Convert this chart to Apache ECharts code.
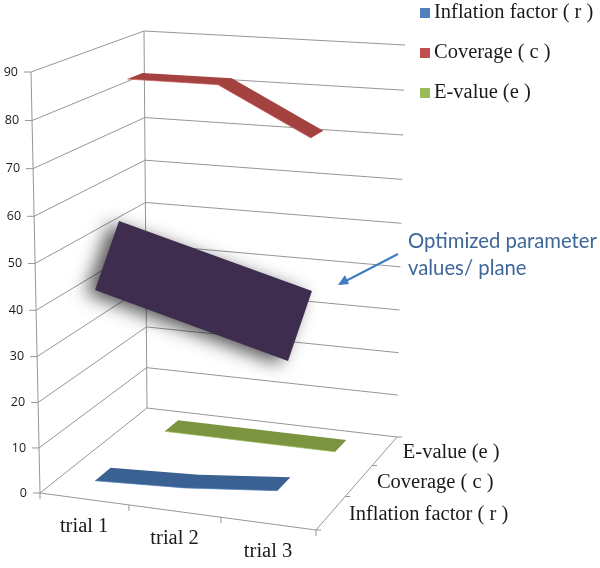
<!DOCTYPE html>
<html><head><meta charset="utf-8">
<style>html,body{margin:0;padding:0;background:#fff}#c{width:600px;height:568px}</style>
<script src="https://cdn.jsdelivr.net/npm/echarts@6/dist/echarts.min.js"></script>
</head><body><div id="c"></div>
<script>
var categories = ['trial 1', 'trial 2', 'trial 3'];
var seriesNames = ['Inflation factor ( r )', 'Coverage ( c )', 'E-value (e )'];
var depthLabels = ['Inflation factor ( r )', 'Coverage ( c )', 'E-value (e )'];
var valueTicks = [0, 10, 20, 30, 40, 50, 60, 70, 80, 90];
var inflationValues = [2, 3, 5];
var coverageValues = [85, 85, 75];
var evalueValues = [0, 0, 0];
// highlighted plane corners: trial position, value (in the Coverage row)
var planeTrials = [-0.491, 1.707, 1.962, -0.201];
var planeValues = [36.69, 25.08, 41.11, 52.79];
var legendColors = ['#4f81bd', '#c0504d', '#9bbb59'];
var ribbonColors = ['#3a6191', '#a44240', '#7b9440'];
var edgeColors = ['#4f81bd', '#d0605c', '#9bbb59'];

var W = 600, H = 568, LINE = '#969696', SERIF = '"Liberation Serif", serif', SANS = '"Open Sans", sans-serif';

function homography(q) {
  var x0=q[0][0],y0=q[0][1],x1=q[1][0],y1=q[1][1],x2=q[2][0],y2=q[2][1],x3=q[3][0],y3=q[3][1];
  var dx1=x1-x2,dx2=x3-x2,sx=x0-x1+x2-x3,dy1=y1-y2,dy2=y3-y2,sy=y0-y1+y2-y3;
  var den=dx1*dy2-dx2*dy1,g=(sx*dy2-dx2*sy)/den,h=(dx1*sy-sx*dy1)/den;
  var a=x1-x0+g*x1,b=x3-x0+h*x3,d=y1-y0+g*y1,e=y3-y0+h*y3;
  return function(u,v){var w=g*u+h*v+1;return [(a*u+b*v+x0)/w,(d*u+e*v+y0)/w];};
}
// The chart box: the flat grid's scales give t and h, these maps tilt them into the view
var floorMap = homography([[40,493],[316,530],[397,437],[147,408]]);
var topMap = homography([[31,72],[321,90],[405,45],[144,31]]);
function tilt(t, d, h) {
  var k = 0.043, hh = h / (1 + k * (1 - h));
  var a = floorMap(t, d), b = topMap(t, d);
  return [a[0] + (b[0] - a[0]) * hh, a[1] + (b[1] - a[1]) * hh];
}
function view(api, trial, depth, value) {
  var c = api.coord([trial, value]);
  return tilt(c[0] / W, depth, 1 - c[1] / H);
}
function line(p, q, z) {
  return { type: 'line', z2: z || 0, shape: { x1: p[0], y1: p[1], x2: q[0], y2: q[1] }, style: { stroke: LINE, lineWidth: 1 } };
}
function label(text, x, y, font, align) {
  return { type: 'text', z2: 5, style: { text: text, x: x, y: y, font: font, fill: '#1a1a1a', align: align, verticalAlign: 'middle' } };
}

function renderWall(params, api) {
  var v = api.value(0);
  var a = view(api, -0.5, 0, v), b = view(api, -0.5, 1, v), c = view(api, 2.5, 1, v);
  return { type: 'group', children: [
    line(a, b), line(b, c), line([a[0] - 7, a[1]], a),
    label(String(v), a[0] - 13, a[1], '12.5px ' + SANS, 'right')
  ] };
}
function renderFrame(params, api) {
  var kids = [
    line(view(api, -0.5, 0, 0), view(api, -0.5, 0, 90)),
    line(view(api, -0.5, 1, 0), view(api, -0.5, 1, 90)),
    line(view(api, -0.5, 0, 0), view(api, 2.5, 0, 0)),
    line(view(api, 2.5, 0, 0), view(api, 2.5, 1, 0))
  ];
  for (var i = 0; i <= categories.length; i++) {
    var p = view(api, i - 0.5, 0, 0);
    kids.push(line(p, [p[0], p[1] + 6]));
  }
  for (var j = 0; j <= depthLabels.length; j++) {
    var q = view(api, 2.5, j / depthLabels.length, 0);
    kids.push(line(q, [q[0] + 5, q[1]]));
  }
  return { type: 'group', children: kids };
}
function renderCategory(params, api) {
  var i = api.value(0), p = view(api, i, 0, 0);
  return label(categories[i], p[0], p[1] + 28, '20.5px ' + SERIF, 'center');
}
function renderDepth(params, api) {
  var i = api.value(0), q = view(api, 2.5, (i + 0.5) / depthLabels.length, 0);
  return label(depthLabels[i], q[0] + 18, q[1] + 1.5, '20.5px ' + SERIF, 'left');
}
function ribbonRenderer(row) {
  return function (params, api) {
    if (params.dataIndex !== 0) return null;
    var n = 3, d = (row + 0.5) / 3, half = 0.07, front = [], back = [];
    for (var i = 0; i < n; i++) {
      front.push(view(api, api.value(0, i), d - half, api.value(1, i)));
      back.push(view(api, api.value(0, i), d + half, api.value(1, i)));
    }
    return { type: 'group', children: [
      { type: 'polygon', shape: { points: front.concat(back.slice().reverse()) }, style: { fill: ribbonColors[row] } },
      { type: 'polyline', shape: { points: front }, style: { fill: null, stroke: edgeColors[row], lineWidth: 1, opacity: 0.7 } }
    ] };
  };
}
function renderPlane(params, api) {
  if (params.dataIndex !== 0) return null;
  var pts = [];
  for (var i = 0; i < 4; i++) pts.push(view(api, api.value(0, i), 0.5, api.value(1, i)));
  return { type: 'polygon', shape: { points: pts }, style: {
    fill: '#3f2d50', shadowBlur: 18, shadowColor: 'rgba(0,0,0,0.68)', shadowOffsetX: -9, shadowOffsetY: 3 } };
}
function rows(values) { return values.map(function (v, i) { return [i, v]; }); }
function idx(list) { return list.map(function (_, i) { return [i, 0]; }); }

var chart = echarts.init(document.getElementById('c'), null, { renderer: 'canvas' });
var noop = { silent: true, animation: false, clip: false, type: 'custom', coordinateSystem: 'cartesian2d' };
function custom(o) { return Object.assign({}, noop, o); }
chart.setOption({
  animation: false,
  backgroundColor: '#fff',
  grid: { left: 0, right: 0, top: 0, bottom: 0 },
  xAxis: { type: 'value', min: -0.5, max: 2.5, show: false },
  yAxis: { type: 'value', min: 0, max: 90, show: false },
  legend: {
    left: 420, top: 1, padding: 0, orient: 'vertical', itemWidth: 10, itemHeight: 10, itemGap: 16,
    icon: 'rect', selectedMode: false,
    textStyle: { fontFamily: SERIF, fontSize: 20.5, color: '#1a1a1a', padding: [0, 0, 0, -1], lineHeight: 24 },
    data: seriesNames.map(function (n, i) { return { name: n, itemStyle: { color: legendColors[i] } }; })
  },
  series: [
    custom({ name: 'walls', z: 1, data: valueTicks.map(function (v) { return [v, 0]; }), renderItem: renderWall, encode: { x: 1, y: 0 } }),
    custom({ name: 'frame', z: 1, data: [[0, 0]], renderItem: renderFrame }),
    custom({ name: 'categories', z: 1, data: idx(categories), renderItem: renderCategory }),
    custom({ name: 'depth', z: 1, data: idx(depthLabels), renderItem: renderDepth }),
    custom({ name: seriesNames[0], z: 2, itemStyle: { color: legendColors[0] }, data: rows(inflationValues), renderItem: ribbonRenderer(0) }),
    custom({ name: seriesNames[1], z: 2, itemStyle: { color: legendColors[1] }, data: rows(coverageValues), renderItem: ribbonRenderer(1) }),
    custom({ name: seriesNames[2], z: 2, itemStyle: { color: legendColors[2] }, data: rows(evalueValues), renderItem: ribbonRenderer(2) }),
    custom({ name: 'plane', z: 3, data: planeTrials.map(function (t, i) { return [t, planeValues[i]]; }), renderItem: renderPlane })
  ],
  graphic: [
    { type: 'text', z: 10, left: 408, top: 228, style: { text: 'Optimized parameter\nvalues/ plane', font: '20.3px Lato, sans-serif', lineHeight: 27, fill: '#3f6699' } },
    { type: 'polyline', z: 10, shape: { points: [[398, 254], [340, 284]] }, style: { fill: null, stroke: '#3f7cc2', lineWidth: 2 } },
    { type: 'polygon', z: 10, shape: { points: [[338, 285], [345, 275], [349, 284]] }, style: { fill: '#3f7cc2' } }
  ]
});
</script></body></html>
